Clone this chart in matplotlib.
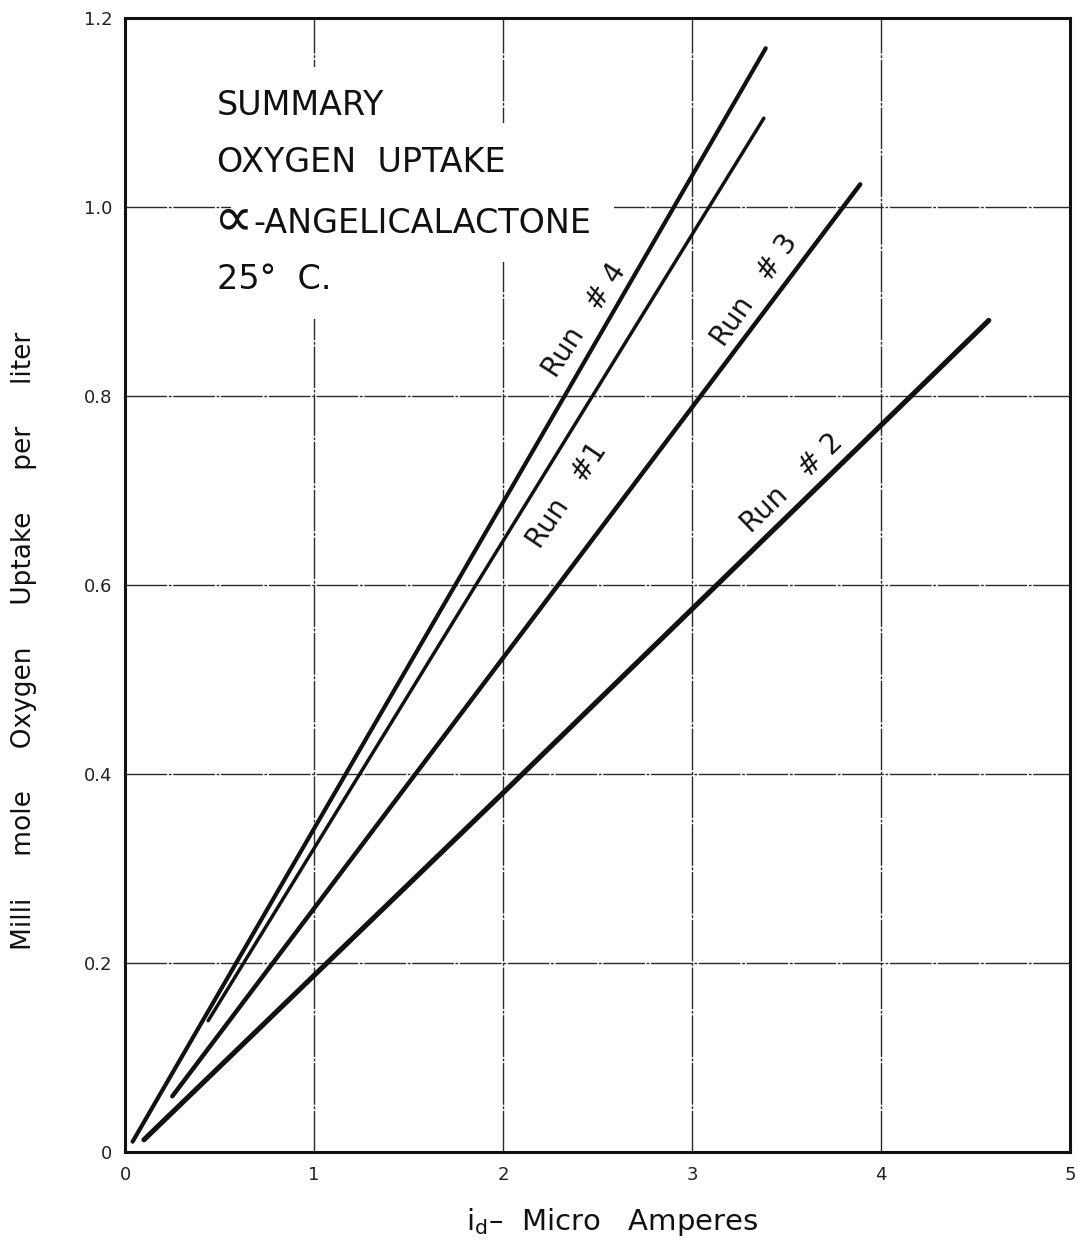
import numpy as np
import matplotlib
matplotlib.use("Agg")
from matplotlib import pyplot as plt

# end points (and a mid point)
run4_x = [0.04, 1.75, 3.39]
run4_y = [0.011, 0.601, 1.168]
run1_x = [0.44, 1.85, 3.38]
run1_y = [0.139, 0.598, 1.094]
run3_x = [0.25, 2.31, 3.89]
run3_y = [0.059, 0.605, 1.024]
run2_x = [0.10, 2.00, 4.57]
run2_y = [0.013, 0.380, 0.880]

xticks = [0, 1, 2, 3, 4, 5]
xtick_labels = ["0", "1", "2", "3", "4", "5"]
yticks = [0, 0.2, 0.4, 0.6, 0.8, 1.0, 1.2]
ytick_labels = ["0", "0.2", "0.4", "0.6", "0.8", "1.0", "1.2"]

plt.rcParams['font.family'] = ['DejaVu Sans']

fig = plt.figure(figsize=(10.78, 12.51), dpi=100)
ax = fig.add_axes([0.116, 0.0791, 0.8766, 0.9065])

ax.set_xlim(0, 5)
ax.set_ylim(0, 1.2)
ax.set_xticks(xticks)
ax.set_xticklabels(xtick_labels)
ax.set_yticks(yticks)
ax.set_yticklabels(ytick_labels)
ax.tick_params(length=0, labelsize=13, colors="#222222")
ax.tick_params(axis="x", pad=10)
ax.tick_params(axis="y", pad=9)

for s in ax.spines.values():
    s.set_linewidth(2.2)
    s.set_color("#111111")

# grid - thin, slightly broken like the original paper
grid_ls = (0, (30, 1.2, 2, 1.2))
for gx in xticks[1:-1]:
    ax.axvline(gx, color="#2a2a2a", lw=1.0, ls=grid_ls, zorder=1)
for gy in yticks[1:-1]:
    ax.axhline(gy, color="#2a2a2a", lw=1.0, ls=grid_ls, zorder=1)

for xs, ys, w in [(run4_x, run4_y, 3.0), (run1_x, run1_y, 2.5),
                  (run3_x, run3_y, 3.2), (run2_x, run2_y, 3.7)]:
    ax.plot(xs, ys, color="#111111", lw=w, solid_capstyle="round", zorder=2)

# run labels, written along the lines
run_kw = dict(fontsize=20, ha="center", va="center", color="#111111")
ax.text(2.43, 0.88, "Run   # 4", rotation=57, **run_kw)
ax.text(2.34, 0.695, "Run   #1", rotation=56, **run_kw)
ax.text(3.33, 0.912, "Run   # 3", rotation=55, **run_kw)
ax.text(3.53, 0.708, "Run   # 2", rotation=44, **run_kw)

# title block, the grid is erased behind each line
box = dict(facecolor="white", edgecolor="none", pad=16)
tkw = dict(transform=ax.transAxes, fontsize=24, ha="left", va="center",
           color="#111111", zorder=4, bbox=box)
ax.text(0.097, 0.923, "SUMMARY", **tkw)
ax.text(0.097, 0.873, "OXYGEN  UPTAKE", **tkw)
ax.text(0.136, 0.819, "-ANGELICALACTONE", **tkw)
ax.text(0.093, 0.822, "\u221d", transform=ax.transAxes, fontsize=40,
        ha="left", va="center", color="#111111", zorder=5)
ax.text(0.097, 0.769, "25\u00b0  C.", **tkw)

fig.text(0.022, 1 - 641 / 1251,
         "Milli     mole     Oxygen     Uptake     per     liter",
         rotation=90, fontsize=19, ha="center", va="center", color="#111111")
fig.text(0.568, 1 - 1222 / 1251, "i$_{\\mathrm{d}}$\u2013  Micro   Amperes",
         fontsize=21, ha="center", va="center", color="#111111")

fig.savefig("out.png", dpi=100, facecolor="white")
